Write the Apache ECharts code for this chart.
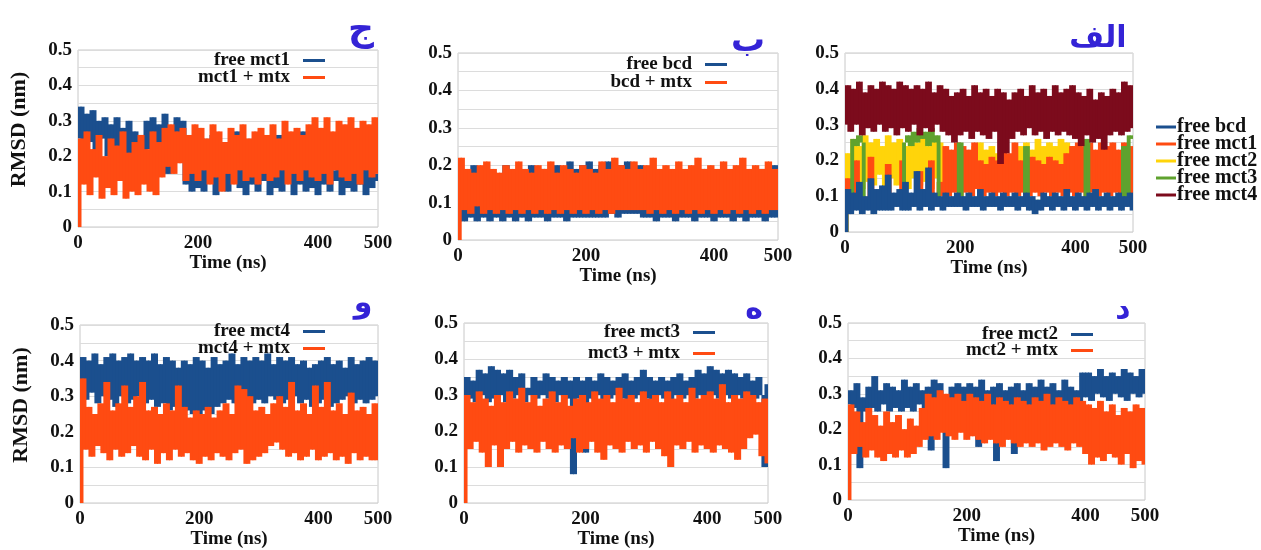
<!DOCTYPE html>
<html>
<head>
<meta charset="utf-8">
<title>RMSD</title>
<script src="https://cdn.jsdelivr.net/npm/echarts@6/dist/echarts.min.js"></script>
<style>
  html, body { margin: 0; padding: 0; background: #fff; }
  .panel { position: absolute; left: 0; top: 0; width: 1261px; height: 550px; }
</style>
</head>
<body>
<div id="pJim" class="panel"></div>
<div id="pBe" class="panel"></div>
<div id="pAlef" class="panel"></div>
<div id="pVav" class="panel"></div>
<div id="pHe" class="panel"></div>
<div id="pDal" class="panel"></div>
<script>
// Sampling interval of the trajectories (ns); value i is at time i * TIME_STEP_NS
const TIME_STEP_NS = 5;
const timeTickLabels = [0, 200, 400, 500];
const rmsdTickLabels = [0, 0.1, 0.2, 0.3, 0.4, 0.5];

// --- panel ج : mct1 ---
const freeMct1 = [0.25,
  0.34,0.22,0.32,0.24,0.33,0.21,0.30,0.25,0.31,0.20,0.29,0.18,0.31,0.22,0.28,0.17,0.30,0.19,0.27,
  0.18,0.26,0.21,0.30,0.22,0.31,0.20,0.29,0.23,0.32,0.15,0.28,0.21,0.31,0.22,0.30,0.12,0.24,0.10,0.22,
  0.11,0.25,0.10,0.19,0.13,0.26,0.09,0.17,0.12,0.24,0.10,0.20,0.13,0.27,0.11,0.18,0.09,0.23,0.12,0.16,
  0.10,0.25,0.13,0.19,0.09,0.22,0.11,0.26,0.10,0.17,0.13,0.24,0.09,0.20,0.12,0.27,0.10,0.18,0.11,0.23,
  0.09,0.19,0.12,0.26,0.10,0.16,0.13,0.24,0.09,0.21,0.11,0.17,0.10,0.25,0.12,0.18,0.09,0.22,0.11,0.15,0.13];
const mct1Mtx = [0.0,
  0.25,0.12,0.27,0.09,0.22,0.14,0.26,0.08,0.20,0.11,0.25,0.09,0.23,0.13,0.27,0.08,0.21,0.10,0.24,
  0.09,0.26,0.12,0.22,0.10,0.27,0.09,0.24,0.14,0.28,0.17,0.29,0.15,0.27,0.18,0.28,0.13,0.26,0.15,0.29,
  0.13,0.28,0.16,0.25,0.12,0.29,0.14,0.27,0.10,0.24,0.15,0.28,0.12,0.26,0.16,0.29,0.13,0.25,0.14,0.27,
  0.12,0.28,0.15,0.26,0.13,0.29,0.14,0.25,0.16,0.30,0.12,0.27,0.15,0.28,0.13,0.26,0.16,0.29,0.14,0.31,
  0.13,0.28,0.15,0.31,0.12,0.27,0.16,0.30,0.14,0.29,0.13,0.31,0.15,0.28,0.12,0.30,0.16,0.29,0.14,0.31,0.15];

// --- panel ب : bcd ---
const freeBcd = [0.05,
  0.19,0.05,0.17,0.06,0.20,0.05,0.16,0.06,0.19,0.05,0.18,0.06,0.17,0.05,0.20,0.06,0.18,0.05,0.19,
  0.06,0.17,0.05,0.20,0.06,0.18,0.06,0.19,0.05,0.17,0.06,0.20,0.06,0.18,0.05,0.21,0.06,0.19,0.06,0.20,
  0.06,0.21,0.06,0.19,0.06,0.20,0.06,0.21,0.07,0.19,0.06,0.20,0.07,0.21,0.07,0.19,0.07,0.20,0.06,0.18,
  0.06,0.19,0.05,0.17,0.06,0.18,0.06,0.17,0.05,0.19,0.06,0.18,0.06,0.17,0.05,0.18,0.06,0.19,0.06,0.17,
  0.05,0.18,0.06,0.19,0.06,0.17,0.05,0.18,0.06,0.19,0.05,0.17,0.06,0.18,0.06,0.19,0.05,0.18,0.06,0.20,0.06];
const bcdMtx = [0.0,
  0.22,0.08,0.19,0.07,0.18,0.09,0.20,0.07,0.21,0.08,0.19,0.07,0.18,0.08,0.20,0.07,0.19,0.08,0.21,
  0.07,0.19,0.08,0.18,0.07,0.20,0.08,0.19,0.07,0.21,0.08,0.18,0.07,0.20,0.08,0.19,0.07,0.18,0.08,0.20,
  0.07,0.19,0.08,0.18,0.07,0.21,0.08,0.19,0.07,0.22,0.08,0.20,0.08,0.19,0.08,0.21,0.08,0.19,0.08,0.20,
  0.07,0.22,0.08,0.19,0.07,0.20,0.08,0.19,0.07,0.21,0.08,0.19,0.07,0.20,0.08,0.22,0.07,0.19,0.08,0.20,
  0.07,0.19,0.08,0.21,0.07,0.19,0.08,0.20,0.07,0.22,0.08,0.19,0.07,0.20,0.08,0.19,0.07,0.21,0.08,0.19,0.08];

// --- panel الف : all free proteins ---
const allFreeBcd = [0.0,
  0.12,0.05,0.11,0.06,0.14,0.05,0.10,0.06,0.15,0.05,0.12,0.06,0.13,0.06,0.16,0.06,0.11,0.07,0.12,
  0.06,0.14,0.06,0.11,0.07,0.17,0.06,0.12,0.07,0.18,0.06,0.11,0.07,0.10,0.06,0.11,0.07,0.10,0.07,0.11,
  0.07,0.10,0.06,0.11,0.07,0.10,0.07,0.12,0.06,0.10,0.07,0.11,0.07,0.10,0.06,0.11,0.07,0.10,0.07,0.11,
  0.06,0.10,0.07,0.11,0.06,0.10,0.05,0.09,0.06,0.11,0.07,0.10,0.06,0.11,0.07,0.10,0.06,0.12,0.07,0.10,
  0.06,0.11,0.07,0.10,0.06,0.11,0.07,0.12,0.06,0.10,0.07,0.11,0.06,0.10,0.07,0.11,0.06,0.10,0.07,0.11,0.06];
const allFreeMct1 = [0.0,
  0.15,0.08,0.09,0.20,0.08,0.09,0.08,0.09,0.21,0.08,0.09,0.08,0.09,0.08,0.19,0.08,0.09,0.08,0.09,
  0.20,0.08,0.09,0.08,0.09,0.08,0.17,0.08,0.09,0.08,0.20,0.08,0.09,0.14,0.10,0.24,0.10,0.23,0.11,0.25,
  0.10,0.24,0.11,0.23,0.10,0.25,0.12,0.20,0.10,0.19,0.11,0.21,0.10,0.20,0.11,0.24,0.10,0.22,0.11,0.25,
  0.10,0.20,0.11,0.19,0.10,0.21,0.11,0.20,0.10,0.19,0.11,0.21,0.10,0.20,0.11,0.19,0.10,0.22,0.11,0.24,
  0.10,0.25,0.11,0.24,0.10,0.25,0.11,0.23,0.10,0.25,0.11,0.24,0.10,0.25,0.11,0.23,0.10,0.25,0.11,0.24,0.10];
const allFreeMct2 = [0.0,
  0.22,0.13,0.26,0.15,0.24,0.12,0.27,0.14,0.25,0.13,0.26,0.16,0.24,0.12,0.27,0.15,0.25,0.13,0.26,
  0.14,0.24,0.12,0.26,0.15,0.25,0.13,0.27,0.14,0.24,0.12,0.26,0.15,0.25,0.13,0.20,0.12,0.18,0.13,0.19,
  0.12,0.18,0.13,0.20,0.14,0.24,0.15,0.25,0.14,0.23,0.15,0.24,0.13,0.22,0.14,0.19,0.13,0.18,0.12,0.20,
  0.13,0.24,0.15,0.25,0.14,0.23,0.15,0.26,0.14,0.24,0.15,0.25,0.13,0.24,0.15,0.26,0.14,0.25,0.15,0.24,
  0.13,0.20,0.12,0.19,0.13,0.21,0.12,0.20,0.13,0.19,0.12,0.21,0.13,0.20,0.12,0.19,0.13,0.20,0.12,0.21,0.13];
const allFreeMct3 = [0.0,
  0.08,0.09,0.26,0.24,0.27,0.25,0.09,0.08,0.09,0.08,0.09,0.08,0.09,0.08,0.09,0.08,0.09,0.08,0.09,
  0.08,0.25,0.27,0.24,0.28,0.25,0.29,0.26,0.28,0.24,0.29,0.25,0.27,0.09,0.08,0.09,0.08,0.09,0.08,0.09,
  0.25,0.08,0.09,0.08,0.09,0.08,0.09,0.08,0.09,0.08,0.09,0.08,0.09,0.08,0.09,0.08,0.09,0.08,0.09,0.08,
  0.09,0.08,0.09,0.24,0.08,0.09,0.08,0.09,0.08,0.09,0.08,0.09,0.08,0.09,0.08,0.09,0.08,0.09,0.08,0.09,
  0.08,0.09,0.08,0.09,0.26,0.08,0.09,0.08,0.09,0.08,0.09,0.08,0.09,0.08,0.09,0.08,0.09,0.24,0.08,0.27,0.26];
const allFreeMct4 = [0.30,
  0.41,0.28,0.40,0.30,0.42,0.27,0.39,0.29,0.41,0.28,0.40,0.30,0.42,0.28,0.41,0.29,0.40,0.27,0.42,
  0.29,0.41,0.28,0.40,0.30,0.41,0.27,0.40,0.29,0.42,0.28,0.39,0.30,0.41,0.28,0.40,0.27,0.38,0.25,0.39,
  0.27,0.40,0.28,0.38,0.26,0.41,0.28,0.39,0.27,0.40,0.26,0.38,0.28,0.40,0.19,0.39,0.22,0.37,0.26,0.39,
  0.28,0.40,0.27,0.38,0.29,0.41,0.27,0.39,0.28,0.40,0.26,0.38,0.28,0.41,0.27,0.39,0.28,0.40,0.27,0.41,
  0.26,0.39,0.24,0.38,0.27,0.40,0.25,0.37,0.26,0.39,0.23,0.38,0.27,0.40,0.28,0.39,0.27,0.42,0.28,0.41,0.29];

// --- panel و : mct4 ---
const freeMct4 = [0.30,
  0.41,0.29,0.40,0.31,0.42,0.28,0.39,0.30,0.41,0.29,0.42,0.27,0.40,0.30,0.41,0.28,0.42,0.29,0.40,
  0.30,0.41,0.28,0.40,0.29,0.42,0.27,0.39,0.28,0.41,0.26,0.40,0.27,0.38,0.25,0.40,0.26,0.39,0.25,0.41,
  0.24,0.40,0.26,0.38,0.25,0.41,0.27,0.39,0.28,0.40,0.29,0.42,0.28,0.39,0.30,0.41,0.29,0.40,0.28,0.41,
  0.29,0.40,0.28,0.42,0.30,0.39,0.29,0.41,0.28,0.40,0.29,0.41,0.30,0.39,0.28,0.40,0.29,0.38,0.27,0.39,
  0.28,0.40,0.29,0.41,0.27,0.39,0.28,0.40,0.29,0.38,0.30,0.41,0.28,0.39,0.29,0.40,0.28,0.41,0.29,0.40,0.30];
const mct4Mtx = [0.0,
  0.35,0.15,0.27,0.13,0.25,0.16,0.28,0.14,0.34,0.12,0.26,0.15,0.28,0.13,0.33,0.14,0.27,0.16,0.30,
  0.13,0.34,0.12,0.26,0.15,0.27,0.11,0.25,0.14,0.28,0.12,0.26,0.15,0.33,0.13,0.27,0.14,0.24,0.12,0.26,
  0.11,0.25,0.13,0.27,0.12,0.24,0.14,0.26,0.13,0.28,0.12,0.25,0.14,0.33,0.15,0.32,0.11,0.30,0.12,0.26,
  0.13,0.27,0.14,0.25,0.16,0.28,0.17,0.30,0.15,0.27,0.13,0.34,0.14,0.26,0.12,0.28,0.13,0.25,0.15,0.33,
  0.12,0.27,0.13,0.34,0.14,0.26,0.12,0.28,0.13,0.25,0.11,0.31,0.14,0.26,0.12,0.27,0.13,0.25,0.12,0.28,0.12];

// --- panel ه : mct3 ---
const freeMct3 = [0.28,
  0.35,0.29,0.34,0.28,0.37,0.30,0.36,0.28,0.38,0.29,0.37,0.30,0.36,0.28,0.37,0.29,0.35,0.30,0.36,
  0.28,0.32,0.30,0.35,0.29,0.34,0.30,0.36,0.29,0.35,0.28,0.34,0.30,0.35,0.29,0.34,0.08,0.35,0.29,0.34,
  0.14,0.35,0.29,0.34,0.30,0.36,0.28,0.35,0.29,0.34,0.30,0.35,0.29,0.36,0.28,0.34,0.29,0.35,0.30,0.37,
  0.29,0.35,0.28,0.34,0.30,0.35,0.29,0.34,0.28,0.35,0.30,0.36,0.29,0.34,0.30,0.35,0.29,0.37,0.30,0.36,
  0.29,0.38,0.30,0.37,0.29,0.36,0.30,0.37,0.29,0.36,0.30,0.35,0.29,0.36,0.30,0.34,0.29,0.35,0.30,0.10,0.33];
const mct3Mtx = [0.0,
  0.30,0.15,0.28,0.17,0.31,0.14,0.29,0.10,0.27,0.16,0.30,0.10,0.28,0.15,0.31,0.17,0.29,0.14,0.32,
  0.16,0.28,0.15,0.30,0.14,0.27,0.17,0.29,0.15,0.31,0.14,0.28,0.16,0.30,0.15,0.27,0.18,0.29,0.14,0.30,
  0.15,0.28,0.17,0.31,0.14,0.29,0.12,0.30,0.16,0.28,0.15,0.32,0.14,0.29,0.17,0.30,0.15,0.28,0.16,0.31,
  0.14,0.29,0.17,0.30,0.15,0.28,0.13,0.31,0.10,0.29,0.16,0.30,0.15,0.28,0.17,0.32,0.14,0.29,0.16,0.30,
  0.15,0.31,0.14,0.29,0.16,0.33,0.15,0.28,0.14,0.30,0.12,0.29,0.15,0.31,0.18,0.30,0.19,0.28,0.13,0.29,0.11];

// --- panel د : mct2 ---
const freeMct2 = [0.27,
  0.31,0.26,0.33,0.09,0.29,0.25,0.32,0.26,0.35,0.25,0.31,0.27,0.33,0.25,0.32,0.26,0.31,0.25,0.34,
  0.26,0.32,0.25,0.33,0.27,0.31,0.25,0.32,0.14,0.34,0.26,0.33,0.25,0.09,0.27,0.32,0.26,0.33,0.25,0.32,
  0.27,0.33,0.26,0.32,0.15,0.34,0.26,0.31,0.25,0.32,0.11,0.33,0.26,0.31,0.25,0.32,0.13,0.33,0.26,0.31,
  0.25,0.33,0.26,0.32,0.27,0.34,0.25,0.32,0.26,0.33,0.25,0.31,0.26,0.34,0.25,0.32,0.24,0.31,0.26,0.36,
  0.29,0.36,0.28,0.35,0.30,0.37,0.29,0.35,0.28,0.36,0.30,0.35,0.29,0.37,0.28,0.36,0.30,0.35,0.29,0.37,0.30];
const mct2Mtx = [0.0,
  0.27,0.13,0.25,0.15,0.22,0.12,0.26,0.14,0.24,0.12,0.21,0.11,0.25,0.13,0.22,0.12,0.24,0.14,0.20,
  0.12,0.23,0.13,0.21,0.15,0.26,0.17,0.30,0.18,0.29,0.17,0.31,0.19,0.30,0.18,0.29,0.17,0.30,0.19,0.28,
  0.17,0.30,0.18,0.29,0.17,0.28,0.16,0.30,0.17,0.27,0.16,0.29,0.15,0.28,0.17,0.27,0.16,0.29,0.15,0.28,
  0.16,0.27,0.15,0.29,0.16,0.28,0.14,0.30,0.15,0.27,0.16,0.29,0.15,0.28,0.14,0.27,0.16,0.29,0.15,0.28,
  0.13,0.27,0.10,0.26,0.12,0.28,0.11,0.25,0.13,0.27,0.12,0.24,0.10,0.26,0.13,0.25,0.09,0.27,0.11,0.26,0.10];

// Palette
const BLUE = '#1b4f8e';
const ORANGE = '#ff4b12';
const YELLOW = '#ffd40a';
const GREEN = '#5fa22e';
const MAROON = '#7c0b1c';
const TITLE_BLUE = '#3423d6';
const SERIF = '"Liberation Serif", "Times New Roman", serif';

// A densely sampled trace drawn at pixel resolution: each step between two
// consecutive samples is filled over the range the trace sweeps through.
function toSteps(values) {
  const out = [];
  for (let i = 1; i < values.length; i++) {
    out.push([(i - 1) * TIME_STEP_NS, i * TIME_STEP_NS, values[i - 1], values[i]]);
  }
  return out;
}

function traceSeries(name, values, color) {
  return {
    type: 'custom', name: name, data: toSteps(values),
    encode: { x: [0, 1], y: [2, 3] },
    itemStyle: { color: color },
    clip: true,
    renderItem: function (params, api) {
      const a = api.coord([api.value(0), api.value(2)]);
      const b = api.coord([api.value(1), api.value(3)]);
      const top = Math.min(a[1], b[1]);
      const h = Math.max(Math.abs(a[1] - b[1]), 1.5);
      return {
        type: 'rect',
        shape: { x: a[0] - 0.5, y: top, width: b[0] - a[0] + 1, height: h },
        style: { fill: color }
      };
    },
    emphasis: { disabled: true }
  };
}

function isRmsdLabel(v) {
  return rmsdTickLabels.some(t => Math.abs(t - v) < 1e-9);
}

function buildPanel(el, cfg) {
  const chart = echarts.init(document.getElementById(el), null, { renderer: 'canvas' });
  const textBold = { fontFamily: SERIF, fontWeight: 'bold', color: '#111' };

  const legends = cfg.legends.map(lg => Object.assign({
    orient: 'vertical',
    icon: 'rect',
    itemWidth: lg.iconW || 22,
    itemHeight: 3,
    itemGap: lg.gap !== undefined ? lg.gap : 2,
    selectedMode: false,
    textStyle: Object.assign({ fontSize: lg.font || 19, padding: lg.pad || [0, 8, 0, 0] }, textBold)
  }, lg.pos, { data: lg.names, align: lg.align || 'right' }));

  chart.setOption({
    animation: false,
    grid: Object.assign({ show: true, borderColor: '#c8c8c8', borderWidth: 1, containLabel: false }, cfg.grid),
    xAxis: {
      type: 'value', min: 0, max: 500, interval: 100,
      name: 'Time (ns)', nameLocation: 'middle', nameGap: 27,
      nameTextStyle: Object.assign({ fontSize: 19 }, textBold),
      axisLine: { show: false }, axisTick: { show: false },
      splitLine: { show: false },
      axisLabel: Object.assign({
        fontSize: 19, margin: 7,
        formatter: v => (timeTickLabels.indexOf(v) >= 0 ? String(v) : '')
      }, textBold)
    },
    yAxis: {
      type: 'value', min: 0, max: 0.5, interval: 0.05,
      name: cfg.yName ? 'RMSD (nm)' : '', nameLocation: 'middle', nameGap: 48, nameRotate: 90,
      nameTextStyle: Object.assign({ fontSize: 22, padding: [0, 0, 0, 18] }, textBold),
      axisLine: { show: false }, axisTick: { show: false },
      splitLine: { show: true, lineStyle: { color: '#dcdcdc', width: 1 } },
      axisLabel: Object.assign({
        fontSize: 19, margin: 6,
        formatter: v => (isRmsdLabel(v) ? (v === 0 ? '0' : v.toFixed(1)) : '')
      }, textBold)
    },
    legend: legends,
    graphic: [{
      type: 'text', x: cfg.title.x, y: cfg.title.y,
      style: {
        text: cfg.title.text, fill: TITLE_BLUE,
        font: 'bold ' + cfg.title.size + 'px "DejaVu Sans", sans-serif',
        textAlign: 'center', textVerticalAlign: 'middle'
      }
    }],
    series: cfg.series.map(s => traceSeries(s.name, s.values, s.color))
  });
}

// ج
buildPanel('pJim', {
  grid: { left: 78, top: 50, width: 300, height: 177 },
  yName: true,
  title: { text: 'ج', x: 361, y: 31, size: 36 },
  legends: [
    { names: ['free mct1'], pos: { right: 931, top: 46 } },
    { names: ['mct1 + mtx'], pos: { right: 931, top: 63 } }
  ],
  series: [
    { name: 'free mct1', values: freeMct1, color: BLUE },
    { name: 'mct1 + mtx', values: mct1Mtx, color: ORANGE }
  ]
});

// ب
buildPanel('pBe', {
  grid: { left: 458, top: 53, width: 320, height: 187 },
  yName: false,
  title: { text: 'ب', x: 748, y: 42, size: 34 },
  legends: [
    { names: ['free bcd'], pos: { right: 529, top: 50 } },
    { names: ['bcd + mtx'], pos: { right: 529, top: 68 } }
  ],
  series: [
    { name: 'free bcd', values: freeBcd, color: BLUE },
    { name: 'bcd + mtx', values: bcdMtx, color: ORANGE }
  ]
});

// الف
buildPanel('pAlef', {
  grid: { left: 845, top: 53, width: 288, height: 179 },
  yName: false,
  title: { text: 'الف', x: 1098, y: 39, size: 30 },
  legends: [
    { names: ['free bcd', 'free mct1', 'free mct2', 'free mct3', 'free mct4'],
      pos: { left: 1151, top: 112 }, align: 'left', iconW: 20, gap: -3, font: 20, pad: [0, 0, 0, -4] }
  ],
  series: [
    { name: 'free mct2', values: allFreeMct2, color: YELLOW },
    { name: 'free mct1', values: allFreeMct1, color: ORANGE },
    { name: 'free mct3', values: allFreeMct3, color: GREEN },
    { name: 'free bcd', values: allFreeBcd, color: BLUE },
    { name: 'free mct4', values: allFreeMct4, color: MAROON }
  ]
});

// و
buildPanel('pVav', {
  grid: { left: 80, top: 325, width: 298, height: 178 },
  yName: true,
  title: { text: 'و', x: 363, y: 304, size: 30 },
  legends: [
    { names: ['free mct4'], pos: { right: 931, top: 317 } },
    { names: ['mct4 + mtx'], pos: { right: 931, top: 334 } }
  ],
  series: [
    { name: 'free mct4', values: freeMct4, color: BLUE },
    { name: 'mct4 + mtx', values: mct4Mtx, color: ORANGE }
  ]
});

// ه
buildPanel('pHe', {
  grid: { left: 464, top: 323, width: 304, height: 180 },
  yName: false,
  title: { text: 'ه', x: 754, y: 310, size: 30 },
  legends: [
    { names: ['free mct3'], pos: { right: 541, top: 318 } },
    { names: ['mct3 + mtx'], pos: { right: 541, top: 339 } }
  ],
  series: [
    { name: 'free mct3', values: freeMct3, color: BLUE },
    { name: 'mct3 + mtx', values: mct3Mtx, color: ORANGE }
  ]
});

// د
buildPanel('pDal', {
  grid: { left: 848, top: 323, width: 297, height: 177 },
  yName: false,
  title: { text: 'د', x: 1123, y: 310, size: 30 },
  legends: [
    { names: ['free mct2'], pos: { right: 163, top: 320 } },
    { names: ['mct2 + mtx'], pos: { right: 163, top: 336 } }
  ],
  series: [
    { name: 'free mct2', values: freeMct2, color: BLUE },
    { name: 'mct2 + mtx', values: mct2Mtx, color: ORANGE }
  ]
});
</script>
</body>
</html>
